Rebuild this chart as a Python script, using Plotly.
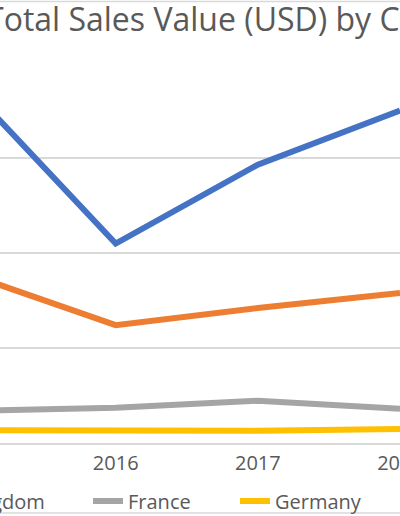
import plotly.graph_objects as go

# ---- data ----
years = ["2015", "2016", "2017", "2018"]
united_states = [3.69, 2.10, 2.93, 3.50]
united_kingdom = [1.76, 1.24, 1.42, 1.58]
france = [0.34, 0.37, 0.445, 0.36]
germany = [0.135, 0.13, 0.13, 0.148]
series_names = ["United States", "United Kingdom", "France", "Germany"]
colors = ["#4472C4", "#ED7D31", "#A5A5A5", "#FFC000"]
title_text = "Total Sales Value (USD) by Country"

W, H = 400, 516
PLOT_TOP, PLOT_BOTTOM = 62.5, 443.0
PLOT_H = PLOT_BOTTOM - PLOT_TOP
FONT = "Open Sans, Noto Sans, sans-serif"
TXT = "#595959"
GRID = "#D9D9D9"


def py(px):
    """pixel row -> paper y"""
    return (PLOT_BOTTOM - px) / PLOT_H


fig = go.Figure()
all_values = [united_states, united_kingdom, france, germany]
legend_ids = ["legend", "legend2", "legend3", "legend4"]
for name, vals, col, lg in zip(series_names, all_values, colors, legend_ids):
    fig.add_trace(go.Scatter(
        x=years, y=vals, mode="lines", name=name,
        line=dict(color=col, width=6),
        legend=lg, hoverinfo="x+y+name", cliponaxis=True,
    ))

legend_common = dict(
    orientation="h", yref="container", y=1 - 501 / H, yanchor="middle",
    xref="paper", xanchor="left", bgcolor="rgba(0,0,0,0)",
    font=dict(family=FONT, size=20, color=TXT), borderwidth=0,
)
legend_x = {"legend": -1.2, "legend2": -0.365, "legend3": 0.22, "legend4": 0.5875}

fig.update_layout(
    width=W, height=H,
    margin=dict(l=0, r=0, t=PLOT_TOP, b=H - PLOT_BOTTOM, pad=0, autoexpand=False),
    paper_bgcolor="white", plot_bgcolor="white",
    showlegend=True,
    xaxis=dict(
        type="category", range=[0.186, 3.0],
        showgrid=False, showline=True, linecolor=GRID, linewidth=2,
        ticks="", tickfont=dict(family=FONT, size=20, color=TXT),
        ticklabelstandoff=1, zeroline=False,
    ),
    yaxis=dict(
        range=[0, 4], dtick=1, showgrid=True, gridcolor=GRID, gridwidth=2,
        showticklabels=False, zeroline=False, showline=False, ticks="",
    ),
    annotations=[dict(
        text=title_text, xref="paper", yref="paper",
        x=-16 / W, y=py(17.5), xanchor="left", yanchor="middle",
        showarrow=False, font=dict(family=FONT, size=32, color=TXT),
    )],
    shapes=[dict(
        type="rect", xref="paper", yref="paper",
        x0=-0.05, x1=1.05, y0=py(513), y1=py(1.0),
        line=dict(color=GRID, width=1.5), layer="below",
    )],
)
for lg, xv in legend_x.items():
    fig.update_layout({lg: dict(legend_common, x=xv)})

fig.write_html(
    "out.html",
    config={"displayModeBar": False},
    post_script="document.body.style.margin='0';document.body.style.overflow='hidden';",
)
